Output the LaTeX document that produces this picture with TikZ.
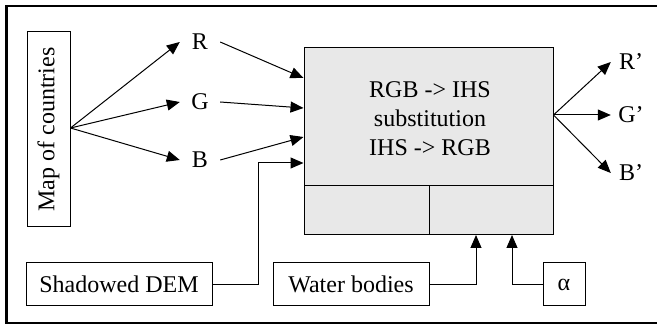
\documentclass[tikz,border=0pt]{standalone}
\usepackage{fontspec}
\setmainfont{Liberation Serif}
\usetikzlibrary{arrows.meta,calc}
\definecolor{procfill}{HTML}{E8E8E8}
\tikzset{
  box/.style={draw, line width=1pt, inner sep=0pt, align=center},
  lbl/.style={inner sep=0pt, minimum width=40pt, minimum height=20pt},
  flow/.style={line width=1pt, -{Triangle[length=13pt,width=11pt]}},
}
\begin{document}
\begin{tikzpicture}[x=1pt,y=-1pt,font=\fontsize{24}{29}\selectfont]
\useasboundingbox (0,0) rectangle (657,326);
% outer frame, open on the right
\draw[line width=2.2pt] (700,6) -- (6.5,6) -- (6.5,323) -- (700,323);

% source map
\node[box, minimum width=43pt, minimum height=195pt] (map) at (48.5,129.5) {};
\node[rotate=90] (maptext) at (map.center) {Map of countries};

% colour channels
\node[lbl] (r) at (200,42) {R};
\node[lbl] (g) at (200,102) {G};
\node[lbl] (b) at (200,160) {B};

% processing block
\node[box, fill=procfill, minimum width=249pt, minimum height=138pt] (proc) at (428.5,117) {};
\node[align=center] (proctext) at (430,119) {RGB -> IHS\\substitution\\IHS -> RGB};
\node[box, fill=procfill, minimum width=125pt, minimum height=49pt] (cellL) at (366.5,210.5) {};
\node[box, fill=procfill, minimum width=124pt, minimum height=49pt] (cellR) at (491,210.5) {};

% additional inputs
\node[box, minimum width=186pt, minimum height=43pt] (dem) at (119,284.5) {Shadowed DEM};
\node[box, minimum width=156pt, minimum height=43pt] (water) at (351,284.5) {Water bodies};
\node[box, minimum width=42pt, minimum height=43pt] (alpha) at (564,284.5) {α};

% output channels
\node[lbl] (ro) at (631,62) {R’};
\node[lbl] (go) at (631,115) {G’};
\node[lbl] (bo) at (631,173) {B’};

% entry points on the processing block
\coordinate (inR) at (proc.west |- 0,78);
\coordinate (inG) at (proc.west |- 0,108);
\coordinate (inB) at (proc.west |- 0,137);
\coordinate (inD) at (proc.west |- 0,163);
\coordinate (fan) at (map.east |- 0,128);
\coordinate (out) at (proc.east |- 0,115);
\coordinate (wIn) at (476,235);
\coordinate (aIn) at (512,235);

% splitting the map into channels
\draw[flow] (fan) -- (r.west);
\draw[flow] (fan) -- (g.west);
\draw[flow] (fan) -- (b.west);

% channels into the transform
\draw[flow] (r.east) -- (inR);
\draw[flow] (g.east) -- (inG);
\draw[flow] (b.east) -- (inB);
\draw[flow] (dem.east) -- (258,284.5) |- (inD);

% masks from below
\draw[flow] (water.east) -| (wIn);
\draw[flow] (alpha.west) -| (aIn);

% recombined channels
\draw[flow] (out) -- (ro.west);
\draw[flow] (out) -- (go.west);
\draw[flow] (out) -- (bo.west);
\end{tikzpicture}
\end{document}
